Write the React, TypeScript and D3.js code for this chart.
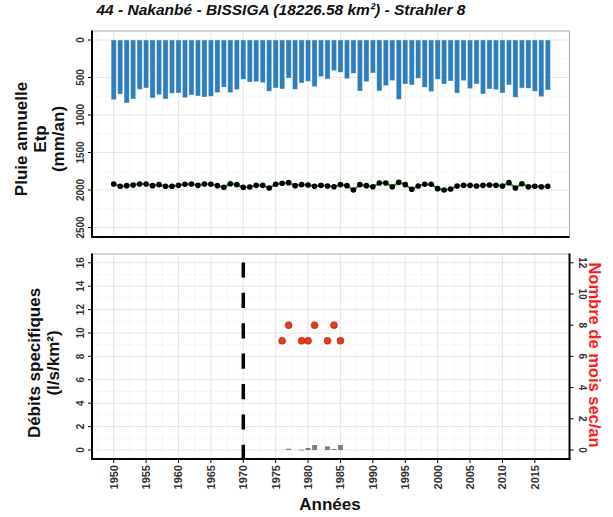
import React from 'react';
import * as d3 from 'd3';

const years = d3.range(1950, 2018);
const rainfall = [
  796, 720, 840, 787, 658, 640, 773, 729, 787, 711,
  707, 769, 733, 747, 760, 751, 702, 627, 702, 662,
  524, 560, 556, 569, 684, 640, 653, 507, 658, 573,
  551, 622, 489, 520, 409, 431, 516, 444, 680, 556,
  440, 680, 609, 542, 791, 587, 600, 511, 631, 689,
  524, 587, 547, 707, 542, 649, 587, 720, 653, 662,
  707, 600, 764, 640, 644, 684, 756, 667,
];
const etp = [
  1920, 1951, 1942, 1933, 1920, 1920, 1942, 1929, 1951, 1951,
  1938, 1924, 1920, 1938, 1920, 1924, 1942, 1964, 1916, 1929,
  1964, 1960, 1938, 1938, 1973, 1924, 1911, 1902, 1942, 1929,
  1933, 1951, 1938, 1947, 1956, 1929, 1942, 2000, 1929, 1942,
  1956, 1907, 1907, 1956, 1898, 1929, 1991, 1947, 1924, 1924,
  1982, 2000, 1987, 1947, 1938, 1938, 1947, 1938, 1933, 1938,
  1947, 1902, 1973, 1916, 1956, 1951, 1956, 1951,
];
const qYears = [1977, 1979, 1980, 1981, 1983, 1984, 1985];
const qValues = [0.11, 0.03, 0.17, 0.43, 0.31, 0.09, 0.43];
const dryYears = [1976, 1977, 1979, 1980, 1981, 1983, 1984, 1985];
const dryMonths = [7, 8, 7, 7, 8, 7, 8, 7];
const xTickYears = d3.range(1950, 2016, 5);
const xMinorYears = d3.range(1947.5, 2020, 5);
const rainTicks = [0, 500, 1000, 1500, 2000, 2500];
const rainMinor = [250, 750, 1250, 1750, 2250];
const qTicks = [0, 2, 4, 6, 8, 10, 12, 14, 16];
const qMinor = [1, 3, 5, 7, 9, 11, 13, 15];
const dryTicks = [0, 2, 4, 6, 8, 10, 12];
const breakYear = 1970;
const title = '44 - Nakanbé - BISSIGA (18226.58 km²) - Strahler 8';

const FONT = '"Liberation Sans", Arial, Helvetica, sans-serif';

export default function App() {
  const W = 613, H = 517;
  const left = 92, right = 569.5;
  const x = d3.scaleLinear().domain([1946.65, 2020.35]).range([left, right]);
  const top1 = 31, bot1 = 237;
  const y1 = d3.scaleLinear().domain([-120, 2627]).range([top1, bot1]);
  const top2 = 254, bot2 = 459;
  const y2 = d3.scaleLinear().domain([-0.77, 16.75]).range([bot2, top2]);
  const y2r = d3.scaleLinear().domain([-0.77 * 0.75, 16.75 * 0.75]).range([bot2, top2]);
  const bw = (x(1951) - x(1950)) * 0.8;
  const qbw = (x(1951) - x(1950)) * 0.75;

  const etpLine = d3.line<number>()
    .x((_, i) => x(years[i]))
    .y((d) => y1(d))
    .curve(d3.curveLinear)(etp) || '';

  const gridMajor = '#e6e6e6';
  const gridMinor = '#f0f0f0';

  const vGrid = (t: number, b: number) => (
    <g>
      {xMinorYears.map((yr) => (
        <line key={'m' + yr} x1={x(yr)} x2={x(yr)} y1={t} y2={b} stroke={gridMinor} strokeWidth={0.6} />
      ))}
      {xTickYears.map((yr) => (
        <line key={'M' + yr} x1={x(yr)} x2={x(yr)} y1={t} y2={b} stroke={gridMajor} strokeWidth={1.1} />
      ))}
    </g>
  );

  return (
    <svg width={W} height={H} style={{ position: 'absolute', left: 0, top: 0, background: '#fff' }} fontFamily={FONT}>
      <rect x={0} y={0} width={W} height={H} fill="#fff" />
      {/* Title */}
      <text x={281} y={15} textAnchor="middle" fontSize={15.5} fontWeight="bold" fontStyle="italic" fill="#111">{title}</text>

      {/* ===== TOP PANEL ===== */}
      <rect x={left} y={top1} width={right - left} height={bot1 - top1} fill="#fff" />
      {vGrid(top1, bot1)}
      {rainMinor.map((v) => (
        <line key={'rm' + v} x1={left} x2={right} y1={y1(v)} y2={y1(v)} stroke={gridMinor} strokeWidth={0.6} />
      ))}
      {rainTicks.map((v) => (
        <line key={'rM' + v} x1={left} x2={right} y1={y1(v)} y2={y1(v)} stroke={gridMajor} strokeWidth={1.1} />
      ))}
      {years.map((yr, i) => (
        <rect key={'b' + yr} x={x(yr) - bw / 2} y={y1(0)} width={bw} height={y1(rainfall[i]) - y1(0)}
          fill="#2e7ebc" stroke="#ffffff" strokeOpacity={0.55} strokeWidth={0.7} />
      ))}
      <path d={etpLine} fill="none" stroke="#2ca02c" strokeWidth={2.2} />
      {years.map((yr, i) => (
        <circle key={'e' + yr} cx={x(yr)} cy={y1(etp[i])} r={2.8} fill="#000" />
      ))}
      {/* border */}
      <line x1={left} x2={right} y1={top1} y2={top1} stroke="#aaaaaa" strokeWidth={1} />
      <line x1={right} x2={right} y1={top1} y2={bot1} stroke="#aaaaaa" strokeWidth={1} />
      <line x1={left} x2={left} y1={top1 - 0.5} y2={bot1 + 1} stroke="#000" strokeWidth={2} />
      <line x1={left - 1} x2={right} y1={bot1} y2={bot1} stroke="#000" strokeWidth={2} />
      {rainTicks.map((v) => (
        <g key={'rt' + v}>
          <line x1={left - 4} x2={left} y1={y1(v)} y2={y1(v)} stroke="#000" strokeWidth={1} />
          <text transform={`translate(${left - 8},${y1(v)}) rotate(-90)`} textAnchor="middle" fontSize={10}
            fontWeight="bold" fill="#333">{v}</text>
        </g>
      ))}
      <g fontSize={17} fontWeight="bold" fill="#111" textAnchor="middle">
        <text transform={`translate(27,139) rotate(-90)`}>Pluie annuelle</text>
        <text transform={`translate(46,139) rotate(-90)`}>Etp</text>
        <text transform={`translate(64,139) rotate(-90)`}>(mm/an)</text>
      </g>

      {/* ===== BOTTOM PANEL ===== */}
      <rect x={left} y={top2} width={right - left} height={bot2 - top2} fill="#fff" />
      {vGrid(top2, bot2)}
      {qMinor.map((v) => (
        <line key={'qm' + v} x1={left} x2={right} y1={y2(v)} y2={y2(v)} stroke={gridMinor} strokeWidth={0.6} />
      ))}
      {qTicks.map((v) => (
        <line key={'qM' + v} x1={left} x2={right} y1={y2(v)} y2={y2(v)} stroke={gridMajor} strokeWidth={1.1} />
      ))}
      <line x1={x(breakYear)} x2={x(breakYear)} y1={bot2 + 1} y2={top2} stroke="#000" strokeWidth={3.5}
        strokeDasharray="15.2 15.2" />
      {qYears.map((yr, i) => (
        <rect key={'q' + yr} x={x(yr) - qbw / 2} y={y2(qValues[i])} width={qbw}
          height={Math.max(0.8, y2(0) - y2(qValues[i]))} fill="#7f7f7f" />
      ))}
      {dryYears.map((yr, i) => (
        <circle key={'d' + yr} cx={x(yr)} cy={y2r(dryMonths[i])} r={3.5} fill="#e8391f" stroke="#a01a0a" strokeWidth={0.5} />
      ))}
      <line x1={left} x2={right} y1={top2} y2={top2} stroke="#aaaaaa" strokeWidth={1} />
      <line x1={left} x2={left} y1={top2 - 0.5} y2={bot2 + 1} stroke="#000" strokeWidth={2} />
      <line x1={right} x2={right} y1={top2 - 0.5} y2={bot2 + 1} stroke="#000" strokeWidth={2} />
      <line x1={left - 1} x2={right + 1} y1={bot2} y2={bot2} stroke="#000" strokeWidth={2} />
      {qTicks.map((v) => (
        <g key={'qt' + v}>
          <line x1={left - 4} x2={left} y1={y2(v)} y2={y2(v)} stroke="#000" strokeWidth={1} />
          <text transform={`translate(${left - 8},${y2(v)}) rotate(-90)`} textAnchor="middle" fontSize={10}
            fontWeight="bold" fill="#333">{v}</text>
        </g>
      ))}
      {dryTicks.map((v) => (
        <g key={'dt' + v}>
          <line x1={right} x2={right + 4} y1={y2r(v)} y2={y2r(v)} stroke="#000" strokeWidth={1} />
          <text transform={`translate(${right + 9},${y2r(v)}) rotate(90)`} textAnchor="middle" fontSize={10}
            fontWeight="bold" fill="#333">{v}</text>
        </g>
      ))}
      {xTickYears.map((yr) => (
        <g key={'xt' + yr}>
          <line x1={x(yr)} x2={x(yr)} y1={bot2} y2={bot2 + 4} stroke="#000" strokeWidth={1} />
          <text transform={`translate(${x(yr)},${bot2 + 6}) rotate(-90)`} textAnchor="end" dy="0.35em"
            fontSize={11} fontWeight="bold" fill="#333">{yr}</text>
        </g>
      ))}
      <g fontSize={17} fontWeight="bold" fill="#111" textAnchor="middle">
        <text transform={`translate(40,363) rotate(-90)`}>Débits specifiques</text>
        <text transform={`translate(59,363) rotate(-90)`}>(l/s/km²)</text>
        <text x={330} y={510}>Années</text>
      </g>
      <text transform={`translate(589,355) rotate(90)`} textAnchor="middle" fontSize={16.5} fontWeight="bold"
        fill="#ff1a1a">Nombre de mois sec/an</text>
    </svg>
  );
}
